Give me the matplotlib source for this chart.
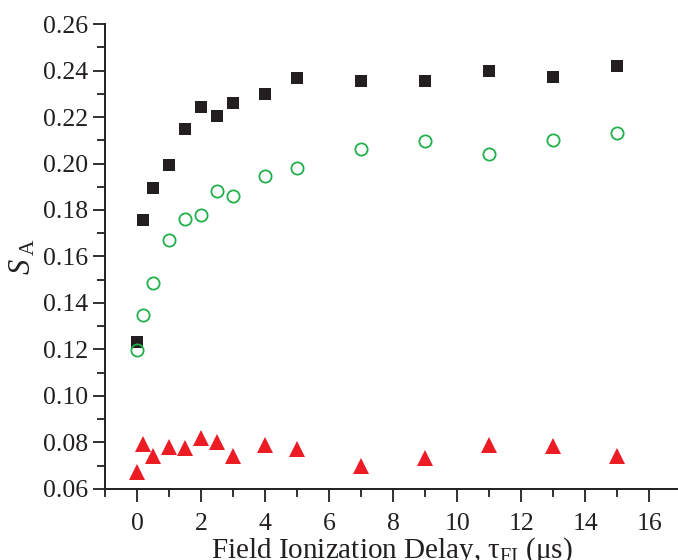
import matplotlib
matplotlib.use("Agg")
import matplotlib.pyplot as plt
from matplotlib.ticker import MultipleLocator, FixedLocator

plt.rcParams['font.family'] = ['Liberation Serif', 'DejaVu Serif']
plt.rcParams['mathtext.fontset'] = 'custom'
plt.rcParams['mathtext.rm'] = 'Liberation Serif'
plt.rcParams['mathtext.it'] = 'Liberation Serif:italic'

# Field ionization delay (microseconds)
delay = [0, 0.2, 0.5, 1, 1.5, 2, 2.5, 3, 4, 5, 7, 9, 11, 13, 15]

# Asymmetry S_A for the three data sets
s_black = [0.1233, 0.1758, 0.1893, 0.1994, 0.2150, 0.2244, 0.2206, 0.2259,
           0.2297, 0.2366, 0.2353, 0.2357, 0.2400, 0.2374, 0.2418]
s_green = [0.1199, 0.1350, 0.1487, 0.1672, 0.1760, 0.1777, 0.1883, 0.1860,
           0.1948, 0.1980, 0.2061, 0.2097, 0.2042, 0.2103, 0.2133]
s_red = [0.0674, 0.0795, 0.0740, 0.0780, 0.0774, 0.0817, 0.0802, 0.0741,
         0.0788, 0.0770, 0.0699, 0.0733, 0.0789, 0.0783, 0.0740]

xticks = [0, 2, 4, 6, 8, 10, 12, 14, 16]
yticks = [0.06, 0.08, 0.10, 0.12, 0.14, 0.16, 0.18, 0.20, 0.22, 0.24, 0.26]

fig = plt.figure(figsize=(6.78, 5.60), dpi=100)
ax = fig.add_axes([0.155, 0.127, 0.845, 0.830])

ax.plot(delay, s_black, linestyle='none', marker='s', markersize=8.3,
        color='#231f20', markeredgewidth=0)
ax.plot(delay, s_green, linestyle='none', marker='o', markersize=8.8,
        markerfacecolor='none', markeredgecolor='#21b04b', markeredgewidth=1.3)
ax.plot(delay, s_red, linestyle='none', marker='^', markersize=11.5,
        color='#ec1c24', markeredgewidth=0)

ax.set_xlim(-1, 16.9)
ax.set_ylim(0.06, 0.26)
ax.xaxis.set_major_locator(FixedLocator(xticks))
ax.xaxis.set_minor_locator(FixedLocator([-1, 1, 3, 5, 7, 9, 11, 13, 15]))
ax.yaxis.set_major_locator(FixedLocator(yticks))
ax.yaxis.set_minor_locator(MultipleLocator(0.01))
ax.set_xticklabels([str(t) for t in xticks])
ax.set_yticklabels([f"{t:.2f}" for t in yticks])

for side in ('top', 'right'):
    ax.spines[side].set_visible(False)
for side in ('left', 'bottom'):
    ax.spines[side].set_linewidth(1.4)
    ax.spines[side].set_color('#231f20')

ax.tick_params(axis='both', which='major', direction='out', length=9,
               width=1.3, colors='#231f20', labelsize=18.5, labelcolor='#231f20')
ax.tick_params(axis='both', which='minor', direction='out', length=5.5,
               width=1.3, colors='#231f20')
ax.tick_params(axis='x', which='major', pad=8.5)
ax.tick_params(axis='y', which='major', pad=3)

ax.set_xlabel('Field Ionization Delay, τ$_{\\mathrm{FI}}$ (μs)', fontsize=21,
              color='#231f20', labelpad=0)
ax.set_ylabel('$S\\,{}_{\\mathrm{A}}$', fontsize=22, color='#231f20', labelpad=4)

fig.savefig('out.png', dpi=100)
